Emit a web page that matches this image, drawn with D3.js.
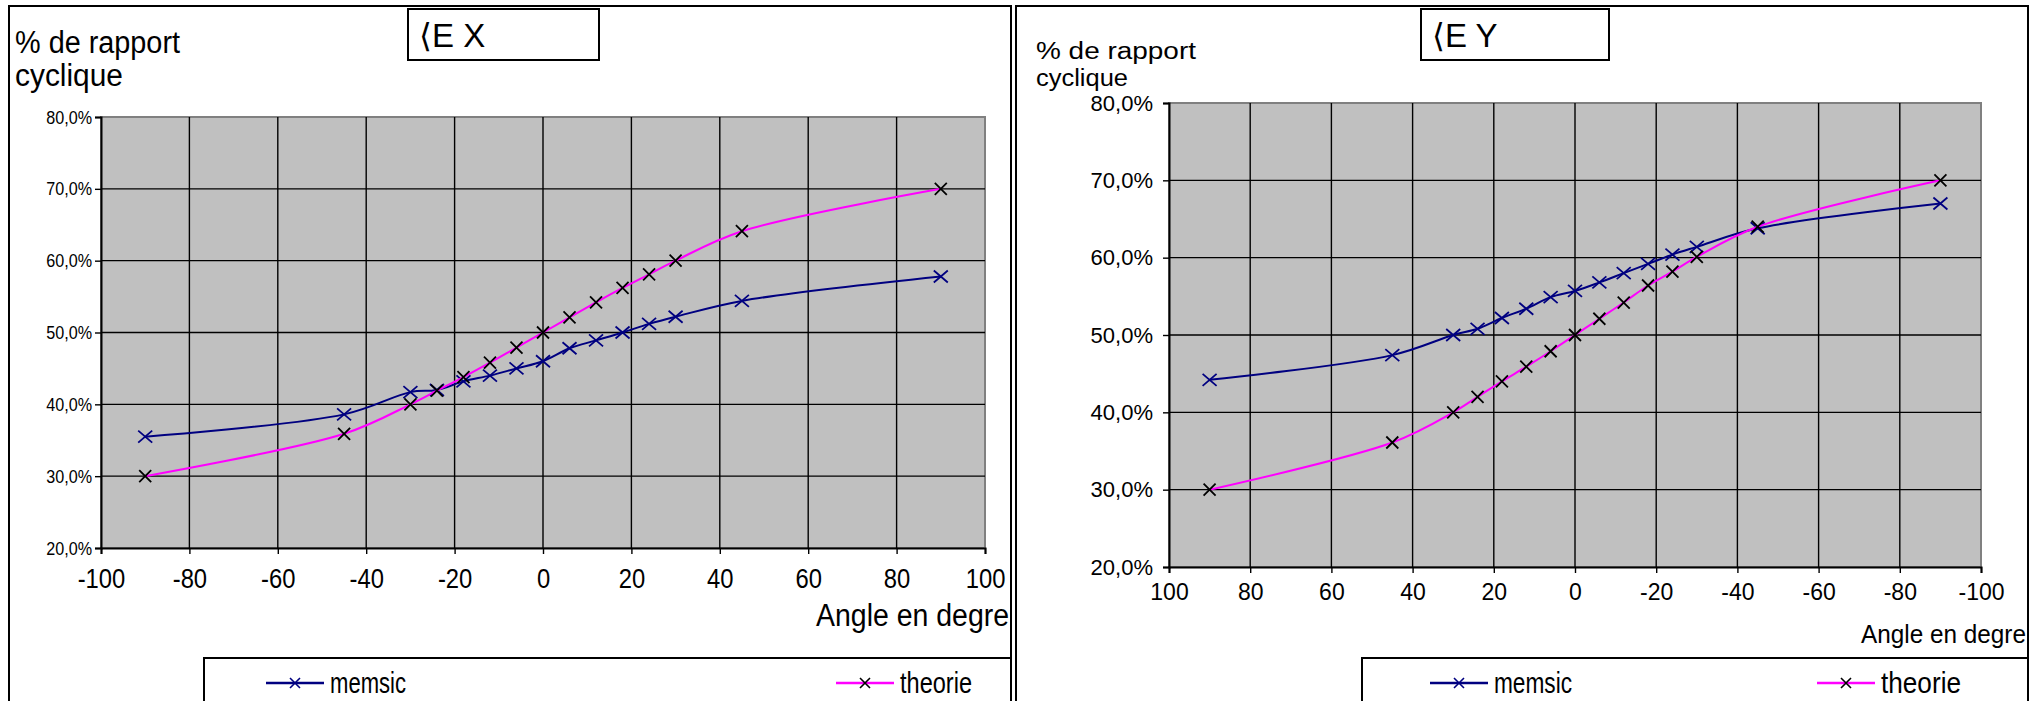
<!DOCTYPE html>
<html>
<head>
<meta charset="utf-8">
<script src="https://cdn.jsdelivr.net/npm/d3@7"></script>
<style>
  body { margin: 0; background: #fff; }
  text { font-family: "Liberation Sans", Arial, sans-serif; fill: #000; }
</style>
</head>
<body>
<svg id="chart" width="2038" height="701"></svg>
<script>
// angles measured (degrees)
const angles = [-90, -45, -30, -24, -18, -12, -6, 0, 6, 12, 18, 24, 30, 45, 90];

// axe X
const memsicX  = [35.5, 38.6, 41.7, 42.0, 43.2, 44.0, 45.0, 46.0, 47.8, 48.9, 50.0, 51.2, 52.2, 54.4, 57.8];
const theorieX = [30.0, 35.9, 40.0, 41.9, 43.8, 45.8, 47.9, 50.0, 52.1, 54.2, 56.2, 58.1, 60.0, 64.1, 70.0];

// axe Y
const memsicY  = [67.0, 63.8, 61.4, 60.4, 59.2, 58.0, 56.8, 55.7, 54.9, 53.4, 52.2, 50.8, 50.0, 47.4, 44.2];
const theorieY = [70.0, 64.0, 60.1, 58.2, 56.4, 54.2, 52.1, 50.0, 47.9, 45.9, 44.0, 42.0, 40.0, 36.1, 30.0];

const yTicks = [20, 30, 40, 50, 60, 70, 80];
const xTicks = [-100, -80, -60, -40, -20, 0, 20, 40, 60, 80, 100];
const seriesNames = ["memsic", "theorie"];
const titles = ["\u27E8E X", "\u27E8E Y"];

const lineColors = { memsic: "#000080", theorie: "#ff00ff" };
const markColors = { memsic: "#000080", theorie: "#000000" };

const svg = d3.select("#chart");

function pctFormat(d) {
  return d3.format(".1f")(d).replace(".", ",") + "%";
}

function crossPath(w, h) {
  return `M${-w},${-h}L${w},${h}M${-w},${h}L${w},${-h}`;
}

// squeeze text horizontally (the left chart uses a narrow font)
function condense(sel, f) {
  if (f === 1) return;
  sel.each(function() {
    let len = this.getComputedTextLength();
    d3.select(this)
      .attr("textLength", len * f)
      .attr("lengthAdjust", "spacingAndGlyphs");
  });
}

function drawPanel(opt, title, memsic, theorie) {
  let g = svg.append("g");

  // chart frame
  g.append("rect")
    .attr("x", opt.x0).attr("y", opt.y0)
    .attr("width", opt.x1 - opt.x0).attr("height", 800)
    .attr("fill", "#fff").attr("stroke", "#000").attr("stroke-width", 2);

  let x = d3.scaleLinear()
    .domain(opt.reversed ? [100, -100] : [-100, 100])
    .range([opt.left, opt.right]);
  let y = d3.scaleLinear().domain([20, 80]).range([opt.bottom, opt.top]);

  // plot area
  g.append("rect")
    .attr("x", opt.left).attr("y", opt.top)
    .attr("width", opt.right - opt.left).attr("height", opt.bottom - opt.top)
    .attr("fill", "#c0c0c0").attr("stroke", "#808080").attr("stroke-width", 2);

  g.selectAll(".vgrid")
    .data(xTicks.slice(1, -1))
    .enter().append("line")
    .attr("x1", d => x(d)).attr("x2", d => x(d))
    .attr("y1", opt.top).attr("y2", opt.bottom)
    .attr("stroke", "#000").attr("stroke-width", 1.4);

  g.selectAll(".hgrid")
    .data(yTicks.slice(1, -1))
    .enter().append("line")
    .attr("x1", opt.left).attr("x2", opt.right)
    .attr("y1", d => y(d)).attr("y2", d => y(d))
    .attr("stroke", "#000").attr("stroke-width", 1.4);

  // axes
  let xAxis = g.append("g")
    .attr("transform", `translate(0,${opt.bottom})`)
    .call(d3.axisBottom(x).tickValues(xTicks).tickSize(6).tickFormat(d => d));
  xAxis.selectAll("text")
    .attr("dy", null).attr("y", opt.xTickY)
    .style("font-size", opt.xTickSize + "px")
    .style("font-family", '"Liberation Sans", Arial, sans-serif');
  condense(xAxis.selectAll("text"), opt.squeeze);

  let yAxis = g.append("g")
    .attr("transform", `translate(${opt.left},0)`)
    .call(d3.axisLeft(y).tickValues(yTicks).tickSize(6).tickPadding(opt.yTickPad).tickFormat(pctFormat));
  yAxis.selectAll("text")
    .style("font-size", opt.yTickSize + "px")
    .style("font-family", '"Liberation Sans", Arial, sans-serif');
  condense(yAxis.selectAll("text"), opt.squeeze);

  [xAxis, yAxis].forEach(a => {
    a.select(".domain").attr("stroke", "#000").attr("stroke-width", 2);
    a.selectAll(".tick line").attr("stroke", "#000").attr("stroke-width", 1.4);
  });

  // series
  let line = d3.line()
    .x(d => x(d[0]))
    .y(d => y(d[1]))
    .curve(d3.curveCatmullRom);

  let series = [
    { name: "memsic", values: angles.map((a, i) => [a, memsic[i]]) },
    { name: "theorie", values: angles.map((a, i) => [a, theorie[i]]) }
  ];

  series.forEach(s => {
    g.append("path")
      .attr("d", line(s.values))
      .attr("fill", "none")
      .attr("stroke", lineColors[s.name])
      .attr("stroke-width", 2);

    g.selectAll(".mk-" + s.name)
      .data(s.values)
      .enter().append("path")
      .attr("transform", d => `translate(${x(d[0])},${y(d[1])})`)
      .attr("d", s.name === "memsic" ? crossPath(7, 6) : crossPath(6, 6))
      .attr("stroke", markColors[s.name])
      .attr("stroke-width", 1.8)
      .attr("fill", "none");
  });

  // title box
  g.append("rect")
    .attr("x", opt.title[0]).attr("y", opt.title[1])
    .attr("width", opt.title[2] - opt.title[0]).attr("height", opt.title[3] - opt.title[1])
    .attr("fill", "#fff").attr("stroke", "#000").attr("stroke-width", 2);
  g.append("text")
    .attr("x", opt.title[0] + 11).attr("y", opt.titleBase)
    .style("font-size", opt.titleSize + "px")
    .text(title);

  // y axis title
  g.append("text")
    .attr("x", opt.yTitleX).attr("y", opt.yTitleBase[0])
    .style("font-size", opt.yTitleSize + "px")
    .attr("textLength", opt.yTitleLen[0]).attr("lengthAdjust", "spacingAndGlyphs")
    .text("% de rapport");
  g.append("text")
    .attr("x", opt.yTitleX).attr("y", opt.yTitleBase[1])
    .style("font-size", opt.yTitleSize + "px")
    .attr("textLength", opt.yTitleLen[1]).attr("lengthAdjust", "spacingAndGlyphs")
    .text("cyclique");

  // x axis title
  g.append("text")
    .attr("x", opt.x1 - 2).attr("y", opt.xTitleBase)
    .attr("text-anchor", "end")
    .style("font-size", opt.xTitleSize + "px")
    .attr("textLength", opt.xTitleLen).attr("lengthAdjust", "spacingAndGlyphs")
    .text("Angle en degre");

  // legend (its box runs past the bottom of the picture, as in the original)
  g.append("rect")
    .attr("x", opt.legX).attr("y", opt.legY)
    .attr("width", opt.x1 - opt.legX).attr("height", 200)
    .attr("fill", "#fff").attr("stroke", "#000").attr("stroke-width", 2);

  seriesNames.forEach((name, i) => {
    let sx = opt.legItems[i];
    let cy = opt.legY + 25;
    g.append("line")
      .attr("x1", sx).attr("x2", sx + 58)
      .attr("y1", cy).attr("y2", cy)
      .attr("stroke", lineColors[name]).attr("stroke-width", 2.5);
    g.append("path")
      .attr("transform", `translate(${sx + 29},${cy})`)
      .attr("d", crossPath(5, 5))
      .attr("stroke", markColors[name]).attr("stroke-width", 1.6);
    g.append("text")
      .attr("x", sx + 64).attr("y", cy + 10)
      .style("font-size", opt.legSize + "px")
      .attr("textLength", opt.legLen[i]).attr("lengthAdjust", "spacingAndGlyphs")
      .text(name);
  });
}

drawPanel({
  x0: 9, y0: 6, x1: 1011,
  left: 101, right: 985, top: 117, bottom: 548,
  reversed: false, squeeze: 0.85,
  xTickY: 40, xTickSize: 28,
  yTickPad: 3, yTickSize: 19,
  title: [408, 9, 599, 60], titleBase: 47, titleSize: 33,
  yTitleX: 15, yTitleBase: [53, 86], yTitleSize: 31, yTitleLen: [165, 108],
  xTitleBase: 626, xTitleSize: 31, xTitleLen: 193,
  legX: 204, legY: 658, legItems: [266, 836], legSize: 29, legLen: [76, 72]
}, titles[0], memsicX, theorieX);

drawPanel({
  x0: 1016, y0: 6, x1: 2028,
  left: 1169, right: 1981, top: 103, bottom: 567,
  reversed: true, squeeze: 1,
  xTickY: 33, xTickSize: 23,
  yTickPad: 10, yTickSize: 22,
  title: [1421, 9, 1609, 60], titleBase: 47, titleSize: 33,
  yTitleX: 1036, yTitleBase: [59, 86], yTitleSize: 23, yTitleLen: [160, 92],
  xTitleBase: 643, xTitleSize: 25, xTitleLen: 165,
  legX: 1362, legY: 658, legItems: [1430, 1817], legSize: 29, legLen: [78, 80]
}, titles[1], memsicY, theorieY);
</script>
</body>
</html>
